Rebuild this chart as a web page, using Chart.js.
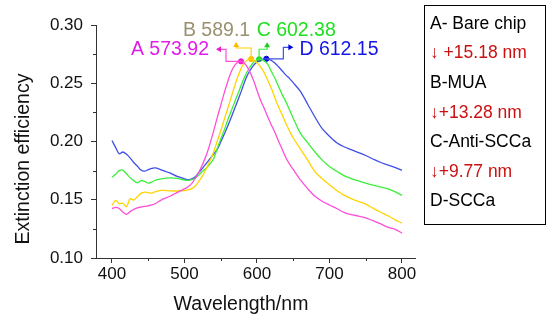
<!DOCTYPE html>
<html>
<head>
<meta charset="utf-8">
<script src="https://cdn.jsdelivr.net/npm/chart.js@4/dist/chart.umd.min.js"></script>
<style>
  body { margin: 0; background: #fff; }
</style>
</head>
<body>
<canvas id="spectra" width="548" height="320"></canvas>
<script>
// wavelength grid (nm)
let wavelengths = [400, 405, 410, 415, 420, 425, 430, 435, 440, 445, 450, 455, 460,
    470, 480, 490, 500,
    505, 510, 515, 520, 525, 530, 535, 540, 545, 550, 555, 560, 565, 570, 575, 580, 585, 590, 595,
    600, 605, 610, 615, 620, 625, 630, 635, 640, 645, 650,
    660, 670, 680, 690, 700, 710, 720, 730, 740, 750, 760, 770, 780, 790, 800];

// A - bare chip
let bareChip = [.1423, .1435, .1425, .1394, .1374, .1398, .1418, .1430, .1437, .1443, .1448, .1455, .1468,
    .1505, .1530, .1563, .1593,
    .1612, .1638, .1685, .1738, .1805, .1880, .1975, .2085, .2200, .2310, .2420, .2520, .2605, .2660, .2684, .2684, .2655, .2600, .2530,
    .2440, .2355, .2285, .2210, .2140, .2075, .2000, .1930, .1860, .1805, .1760,
    .1670, .1595, .1530, .1487, .1455, .1425, .1392, .1372, .1360, .1345, .1320, .1295, .1265, .1248, .1214];

// B - MUA
let mua = [.1452, .1495, .1466, .1470, .1440, .1508, .1497, .1525, .1555, .1566, .1562, .1557, .1570,
    .1580, .1576, .1575, .1578,
    .1584, .1595, .1618, .1660, .1705, .1765, .1830, .1905, .2000, .2090, .2190, .2290, .2390, .2490, .2580, .2650, .2690, .2706, .2700,
    .2675, .2640, .2590, .2525, .2455, .2370, .2295, .2225, .2152, .2090, .2030,
    .1935, .1840, .1742, .1680, .1628, .1580, .1540, .1510, .1485, .1462, .1428, .1395, .1365, .1330, .1300];

// C - Anti-SCCa
let antiSCCa = [.1694, .1718, .1750, .1755, .1723, .1690, .1665, .1645, .1665, .1658, .1642, .1652, .1668,
    .1682, .1688, .1684, .1668,
    .1666, .1672, .1685, .1712, .1745, .1770, .1805, .1850, .1935, .2020, .2100, .2190, .2270, .2350, .2430, .2510, .2580, .2635, .2678,
    .2700, .2705, .2692, .2662, .2600, .2540, .2470, .2400, .2340, .2270, .2200,
    .2070, .1990, .1910, .1840, .1785, .1745, .1707, .1682, .1662, .1642, .1625, .1610, .1595, .1570, .1538];

// D - SCCa
let scca = [.2009, .1950, .1895, .1910, .1890, .1860, .1820, .1790, .1755, .1745, .1758, .1770, .1773,
    .1752, .1730, .1700, .1680,
    .1672, .1680, .1697, .1735, .1772, .1810, .1850, .1890, .1930, .1995, .2065, .2138, .2215, .2295, .2375, .2460, .2545, .2605, .2652,
    .2682, .2700, .2708, .2708, .2695, .2672, .2640, .2605, .2570, .2540, .2505,
    .2430, .2320, .2210, .2110, .2045, .1990, .1955, .1930, .1905, .1880, .1850, .1822, .1800, .1778, .1752];

// peak markers and their labels
let peakWave = [578, 592, 603, 613];
let peakValue = [.2688, .2708, .2706, .2710];
let peakLabels = ['A 573.92', 'B 589.1', 'C 602.38', 'D 612.15'];

let yTicks = [0.10, 0.15, 0.20, 0.25, 0.30];
let xTicks = [400, 500, 600, 700, 800];

let legendLines = ['A- Bare chip', '\u2193 +15.18 nm', 'B-MUA', '\u2193+13.28 nm', 'C-Anti-SCCa', '\u2193+9.77 nm', 'D-SCCa'];

let lineColors = ['#ff4fd8', '#ffd400', '#3cee3c', '#3f4fe8'];
let dotColors = ['#f01cc8', '#ffb800', '#1ccc1c', '#0000e0'];
let textColors = ['#e01ee8', '#9b9070', '#1ee01e', '#1616e8'];
let FONT = '"Liberation Sans", Arial, sans-serif';

function toPoints(values) {
    return wavelengths.map((w, i) => ({ x: w, y: values[i] }));
}

function arrowHead(ctx, x, y, dir) {
    ctx.beginPath();
    if (dir == 'left') { ctx.moveTo(x, y); ctx.lineTo(x + 5, y - 3); ctx.lineTo(x + 5, y + 3); }
    if (dir == 'right') { ctx.moveTo(x, y); ctx.lineTo(x - 5, y - 3); ctx.lineTo(x - 5, y + 3); }
    if (dir == 'up') { ctx.moveTo(x, y); ctx.lineTo(x - 3, y + 5); ctx.lineTo(x + 3, y + 5); }
    ctx.closePath();
    ctx.fill();
}

// extra drawing: minor ticks, peak call-outs, axis titles, side box
let extras = {
    id: 'extras',
    afterDatasetsDraw(chart) {
        let ctx = chart.ctx;
        let xs = chart.scales.x, ys = chart.scales.y;
        let area = chart.chartArea;
        ctx.save();

        // minor ticks
        ctx.strokeStyle = '#333';
        ctx.lineWidth = 1;
        [0.125, 0.175, 0.225, 0.275].forEach(v => {
            let py = Math.round(ys.getPixelForValue(v)) + 0.5;
            ctx.beginPath(); ctx.moveTo(area.left - 3, py); ctx.lineTo(area.left, py); ctx.stroke();
        });
        [450, 550, 650, 750].forEach(v => {
            let px = Math.round(xs.getPixelForValue(v)) + 0.5;
            ctx.beginPath(); ctx.moveTo(px, area.bottom); ctx.lineTo(px, area.bottom + 3); ctx.stroke();
        });

        // peak call-outs
        let p = peakWave.map((w, i) => [xs.getPixelForValue(w), ys.getPixelForValue(peakValue[i])]);
        ctx.lineWidth = 1.2;
        let paths = [
            [[0, 0], [-15, 0], [-15, -12], [-22, -12]],
            [[0, 0], [0, -11], [-15, -11], [-15, -13]],
            [[0, 0], [0, -10], [8, -10], [8, -13]],
            [[0, 0], [17, 0], [17, -11.5], [24, -11.5]]
        ];
        let heads = [[-25, -12, 'left'], [-15, -17, 'up'], [8, -17, 'up'], [27, -11.5, 'right']];
        paths.forEach((path, i) => {
            ctx.strokeStyle = lineColors[i];
            ctx.fillStyle = dotColors[i];
            ctx.beginPath();
            path.forEach((pt, j) => {
                let fn = j == 0 ? 'moveTo' : 'lineTo';
                ctx[fn](p[i][0] + pt[0], p[i][1] + pt[1]);
            });
            ctx.stroke();
            arrowHead(ctx, p[i][0] + heads[i][0], p[i][1] + heads[i][1], heads[i][2]);
        });

        ctx.font = '19.5px ' + FONT;
        ctx.textBaseline = 'middle';
        let labelPos = [[-32, -11.5, 'right'], [-1, -28.5, 'right'], [-2.5, -28.5, 'left'], [33, -9.5, 'left']];
        peakLabels.forEach((label, i) => {
            ctx.fillStyle = textColors[i];
            ctx.textAlign = labelPos[i][2];
            ctx.fillText(label, p[i][0] + labelPos[i][0], p[i][1] + labelPos[i][1]);
        });

        // axis titles
        ctx.fillStyle = '#111';
        ctx.textAlign = 'center';
        ctx.fillText('Wavelength/nm', 241, 305);
        ctx.save();
        ctx.translate(24, 159);
        ctx.rotate(-Math.PI / 2);
        ctx.fillText('Extinction efficiency', 0, 0);
        ctx.restore();

        // side box
        ctx.strokeStyle = '#000';
        ctx.lineWidth = 1;
        ctx.strokeRect(424.5, 5.5, 121, 219);
        ctx.font = '17.5px ' + FONT;
        ctx.textAlign = 'left';
        legendLines.forEach((line, i) => {
            ctx.fillStyle = i % 2 == 1 ? '#cc1010' : '#000';
            ctx.fillText(line, 430, 24 + i * 29.6);
        });

        ctx.restore();
    }
};

let names = ['A- Bare chip', 'B-MUA', 'C-Anti-SCCa', 'D-SCCa'];
let series = [bareChip, mua, antiSCCa, scca];

let datasets = series.map((values, i) => ({
    label: names[i],
    data: toPoints(values),
    borderColor: lineColors[i],
    borderWidth: 1.3,
    pointRadius: 0,
    tension: 0.3,
    fill: false
}));
datasets.push({
    type: 'scatter',
    label: 'peaks',
    data: peakWave.map((w, i) => ({ x: w, y: peakValue[i] })),
    pointBackgroundColor: dotColors,
    pointBorderColor: dotColors,
    pointRadius: 2.6
});

let ctx = document.getElementById('spectra');
let chart = new Chart(ctx, {
    type: 'line',
    data: { datasets: datasets },
    options: {
        responsive: false,
        animation: false,
        layout: { padding: { left: 0, top: 25, right: 133, bottom: 0 } },
        plugins: { legend: { display: false }, tooltip: { enabled: false } },
        scales: {
            x: {
                type: 'linear',
                min: 378,
                max: 818,
                afterFit: scale => { scale.height = 62; },
                afterBuildTicks: scale => { scale.ticks = xTicks.map(v => ({ value: v })); },
                border: { display: true, color: '#333', width: 1 },
                grid: { drawOnChartArea: false, drawTicks: true, tickLength: 5, color: '#333' },
                ticks: { color: '#111', padding: 1, font: { family: FONT, size: 17 }, maxRotation: 0 }
            },
            y: {
                min: 0.10,
                max: 0.30,
                afterFit: scale => { scale.width = 96; },
                afterBuildTicks: scale => { scale.ticks = yTicks.map(v => ({ value: v })); },
                border: { display: true, color: '#333', width: 1 },
                grid: { drawOnChartArea: false, drawTicks: true, tickLength: 5, color: '#333' },
                ticks: {
                    color: '#111', padding: 8, font: { family: FONT, size: 17 },
                    callback: v => v.toFixed(2)
                }
            }
        }
    },
    plugins: [extras]
});
</script>
</body>
</html>
